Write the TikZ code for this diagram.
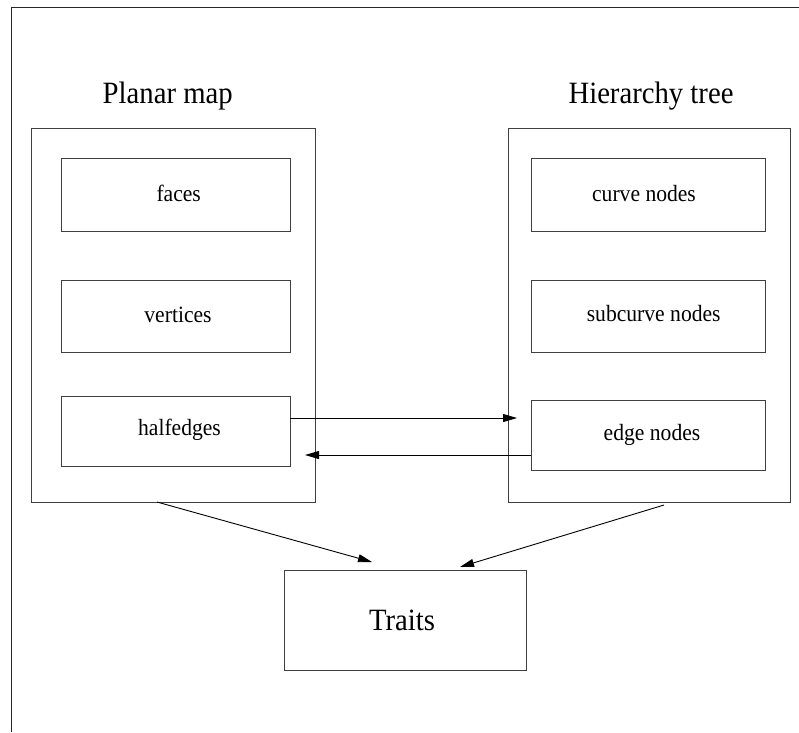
\documentclass[tikz,border=0pt]{standalone}
\usepackage{fontspec}
\usepackage{graphicx}
\setmainfont{Liberation Serif}
\usetikzlibrary{arrows.meta,calc}
\newcommand{\tallt}[1]{\scalebox{1}[1.08]{#1}}
\begin{document}
\begin{tikzpicture}[x=1pt,y=-1pt,
  boxline/.style={draw=black!75,line width=0.9pt},
  frameline/.style={draw=black!85,line width=1pt},
  conn/.style={draw=black,line width=0.9pt,-{Triangle[length=14pt,width=8pt]}},
  title/.style={font=\fontsize{28.7}{30}\selectfont,anchor=base,inner sep=0pt},
  lab/.style={font=\fontsize{21.6}{23}\selectfont,anchor=base,inner sep=0pt}]
\useasboundingbox (0,0) rectangle (799,732);
% frame (partial)
\draw[frameline] (11,732) -- (11,7) -- (799,7);
% outer boxes
\path[boxline] (31,128) rectangle (315,502);
\path[boxline] (508,128) rectangle (790,502);
\coordinate (pmbot) at (157,502);
\coordinate (htbot) at (664,505);
% titles
\node[title] (tpm) at (167.7,103) {\tallt{Planar map}};
\node[title] (tht) at (651,103) {\tallt{Hierarchy tree}};
% inner boxes
\node[boxline,minimum width=229pt,minimum height=73pt,inner sep=0pt] (faces) at (175.5,194.5) {};
\node[boxline,minimum width=229pt,minimum height=72pt,inner sep=0pt] (vertices) at (175.5,316) {};
\node[boxline,minimum width=229pt,minimum height=70pt,inner sep=0pt] (halfedges) at (175.5,431) {};
\node[boxline,minimum width=234pt,minimum height=73pt,inner sep=0pt] (curve) at (648,194.5) {};
\node[boxline,minimum width=234pt,minimum height=72pt,inner sep=0pt] (subcurve) at (648,316) {};
\node[boxline,minimum width=234pt,minimum height=70pt,inner sep=0pt] (edge) at (648,435) {};
\node[boxline,minimum width=242pt,minimum height=100pt,inner sep=0pt] (traits) at (405,620) {};
% labels
\node[lab] at (178.7,201.7) {\tallt{faces}};
\node[lab] at (178,322) {\tallt{vertices}};
\node[lab] at (179.5,435.7) {\tallt{halfedges}};
\node[lab] at (644,201.7) {\tallt{curve nodes}};
\node[lab] at (653.7,321.7) {\tallt{subcurve nodes}};
\node[lab] at (652,440) {\tallt{edge nodes}};
\node[title] at (402,630) {\tallt{Traits}};
% connectors
\coordinate (a1s) at (290,418);
\coordinate (a1e) at (517,418);
\coordinate (a2s) at (531,455);
\coordinate (a2e) at (305,455);
\coordinate (t1) at (372,562);
\coordinate (t2) at (460,567);
\draw[conn] (a1s) -- (a1e);
\draw[conn] (a2s) -- (a2e);
\draw[conn] (pmbot) -- (t1);
\draw[conn] (htbot) -- (t2);
\end{tikzpicture}
\end{document}
